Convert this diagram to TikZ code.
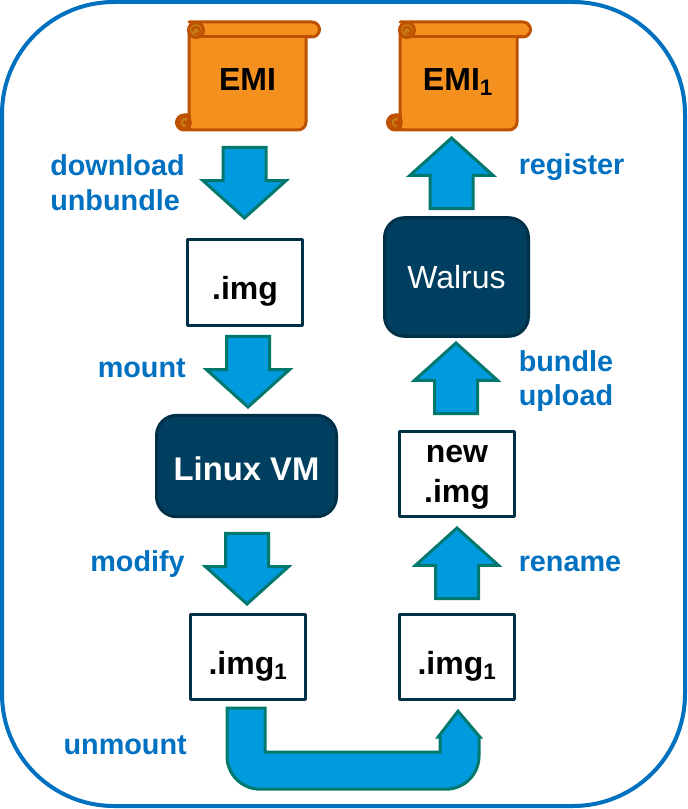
\documentclass[tikz,border=0pt]{standalone}
\usepackage{fontspec}
\setmainfont{Liberation Sans}
\usetikzlibrary{shapes.arrows}
\definecolor{framecol}{HTML}{0070C0}
\definecolor{arrowfill}{HTML}{009ADE}
\definecolor{arrowline}{HTML}{00786E}
\definecolor{vmfill}{HTML}{003F5F}
\definecolor{vmline}{HTML}{002F48}
\definecolor{scrollfill}{HTML}{F4901E}
\definecolor{scrollline}{HTML}{BF5000}
\definecolor{scrollfold}{HTML}{C67A14}
\tikzset{
    imgbox/.style = {draw = vmline, line width = 2.25pt, line join = round, fill = white, minimum width = 86pt, minimum height = 64pt, inner sep = 0pt, align = center, text height = 26pt, text depth = 0pt, font = \fontsize{24}{26}\selectfont\bfseries},
    vmbox/.style = {draw = vmline, line width = 2.25pt, fill = vmfill, rounded corners = 15pt, text = white, inner sep = 0pt, font = \fontsize{24}{28}\selectfont},
    scrolltext/.style = {anchor = base, font = \fontsize{24}{28}\selectfont\bfseries},
    steplabel/.style = {text = framecol, align = left, inner sep = 0pt, font = \fontsize{21.6}{26}\selectfont\bfseries},
    blockarrow/.style = {single arrow, draw = arrowline, fill = arrowfill, line width = 2.25pt, inner sep = 15pt, single arrow head extend = 15pt, single arrow tip angle = 96, minimum width = 60pt, minimum height = 53pt},
    scroll/.pic = {
        \draw [scrollline, fill = scrollfill, line width = 2.25pt, line join = round]
            (0,-8) -- (123,-8) arc (-90:90:7.5) -- (117,7) -- (117,92) arc (0:90:8) -- (-5,100)
            arc (90:270:7.5) -- (0,85) -- (0,0) arc (180:270:8) -- cycle;
        \draw [scrollline, line width = 2.25pt] (8,7) -- (123,7);
        \draw [scrollline, fill = scrollfold, line width = 2.25pt] (7,0) circle (7.5);
        \draw [scrollline, line width = 1.5pt] (3,1) arc (180:360:4) arc (0:120:3);
        \draw [scrollline, fill = scrollline] (-5,92.5) circle (7.5);
        \draw [scrollfold, line width = 1.8pt] (-2,89.5) arc (-60:-280:3.5);
        \draw [scrollline, line width = 2.25pt] (0,85) -- (0,100);
    }
}

\begin{document}
\begin{tikzpicture}[x = 0.75pt, y = -0.75pt]
    \useasboundingbox (0,0) rectangle (687,809);
    \draw [framecol, line width = 3pt, rounded corners = 84pt] (2,2) rectangle (685,806);

    % left column
    \pic at (189,30) {scroll};
    \pic at (400,30) {scroll};
    \node [scrolltext] (emi) at (247.5,91) {EMI};
    \node [scrolltext] (emione) at (458,91) {EMI\textsubscript{1}};
    \node [imgbox] (img) at (245,282.5) {.img};
    \node [vmbox, minimum width = 135pt, minimum height = 76pt, text height = 21pt, text depth = 0pt, font = \fontsize{24.6}{28}\selectfont\bfseries] (linux) at (246.5,466) {Linux VM};
    \node [imgbox] (imgone) at (248,657) {.img\textsubscript{1}};

    % right column
    \node [imgbox] (imgtwo) at (457,657) {.img\textsubscript{1}};
    \node [imgbox, text height =, text depth =, font = \fontsize{24}{30}\selectfont\bfseries] (newimg) at (457,474) {\rule{0pt}{17.5pt}new\\.img};
    \node [vmbox, minimum width = 108pt, minimum height = 89pt] (walrus) at (456.5,277) {Walrus};

    % block arrows
    \node [blockarrow, rotate = -90] (download) at (244.5,173) {};
    \node [blockarrow, rotate = -90] (mount) at (248,362) {};
    \node [blockarrow, rotate = -90] (modify) at (247,559) {};
    \node [blockarrow, rotate = 90] (rename) at (457,573) {};
    \node [blockarrow, rotate = 90] (bundle) at (456,388) {};
    \node [blockarrow, rotate = 90] (register) at (451.5,183) {};
    \coordinate (umount) at (imgone.south);
    \coordinate (uend) at (imgtwo.south);
    \draw [draw = arrowline, fill = arrowfill, line width = 2.25pt]
        ([shift = {(-21,7)}]umount) -- ([shift = {(17,7)}]umount) -- ([shift = {(17,51)}]umount)
        -- ([shift = {(-17,51)}]uend) -- ([shift = {(-17,36)}]uend) -- ([shift = {(-19,36)}]uend)
        -- ([shift = {(1,10)}]uend) -- ([shift = {(23,36)}]uend) -- ([shift = {(22,36)}]uend)
        [rounded corners = 24.75pt] -- ([shift = {(22,88)}]uend) -- ([shift = {(-21,88)}]umount) [sharp corners] -- cycle;

    % labels
    \node [steplabel, anchor = west] (downlabel) at (50,183) {download\\unbundle};
    \node [steplabel, anchor = east] (mountlabel) at (186,368) {mount};
    \node [steplabel, anchor = east] (modifylabel) at (185,564) {modify};
    \node [steplabel, anchor = east] (unmountlabel) at (187,745) {unmount};
    \node [steplabel, anchor = west] (reglabel) at (518.5,167) {register};
    \node [steplabel, anchor = west] (bundlelabel) at (518.5,381) {bundle\\upload};
    \node [steplabel, anchor = west] (renamelabel) at (518.5,564) {rename};
\end{tikzpicture}
\end{document}
